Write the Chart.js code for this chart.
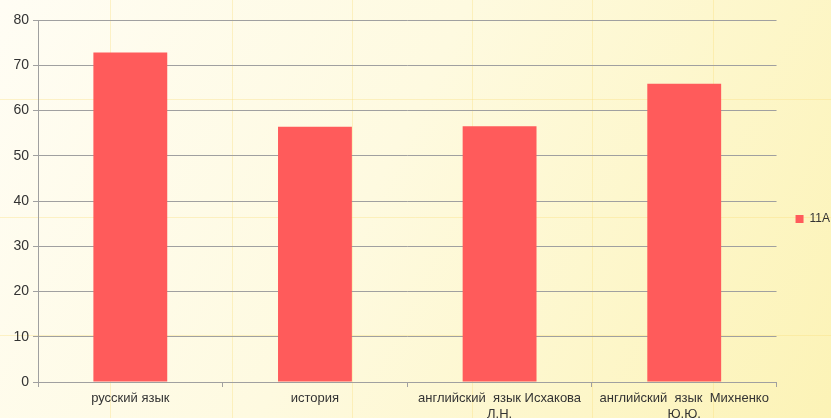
<!DOCTYPE html>
<html lang="ru">
<head>
    <meta charset="UTF-8">
    <title>11А</title>
    <script src="https://cdn.jsdelivr.net/npm/chart.js"></script>
    <style>
        html, body { margin: 0; padding: 0; background: #fefcf0; }
        #wrap { width: 831px; height: 418px; position: relative; }
    </style>
</head>
<body>
    <div id="wrap"><canvas id="chart"></canvas></div>

    <script>
        // данные
        const categories = [
            'русский язык',
            'история',
            ['английский  язык Исхакова', 'Л.Н.'],
            ['английский  язык  Михненко', 'Ю.Ю.']
        ];
        const seriesName = '11А';
        const values = [72.8, 56.4, 56.5, 65.9];
        const yTicks = [0, 10, 20, 30, 40, 50, 60, 70, 80];

        // фон: светлый градиент с бледной сеткой
        const backgroundPlugin = {
            id: 'bg',
            beforeDraw(chart) {
                const ctx = chart.ctx;
                const w = chart.width, h = chart.height;
                ctx.save();
                const g = ctx.createLinearGradient(0, 0, w, h);
                g.addColorStop(0, '#fffdf4');
                g.addColorStop(0.45, '#fefae0');
                g.addColorStop(1, '#fcf3b6');
                ctx.fillStyle = g;
                ctx.fillRect(0, 0, w, h);
                ctx.strokeStyle = 'rgba(248, 222, 120, 0.35)';
                ctx.lineWidth = 1;
                [110, 232, 352, 472, 592, 713].forEach(x => {
                    ctx.beginPath(); ctx.moveTo(x + 0.5, 0); ctx.lineTo(x + 0.5, h); ctx.stroke();
                });
                [99, 217, 335].forEach(y => {
                    ctx.beginPath(); ctx.moveTo(0, y + 0.5); ctx.lineTo(w, y + 0.5); ctx.stroke();
                });
                ctx.restore();
            }
        };

        // легенда чуть правее, как в оригинале
        const legendShift = {
            id: 'legendShift',
            afterLayout(chart) {
                const lg = chart.legend;
                if (lg) { lg.left += 9; lg.right += 9; }
            }
        };

        const ctx = document.getElementById('chart').getContext('2d');
        new Chart(ctx, {
            type: 'bar',
            data: {
                labels: categories,
                datasets: [{
                    label: seriesName,
                    data: values,
                    backgroundColor: '#ff5b5b',
                    borderWidth: 0,
                    barPercentage: 1,
                    categoryPercentage: 0.4
                }]
            },
            options: {
                responsive: true,
                maintainAspectRatio: false,
                animation: false,
                layout: { padding: { top: 20, left: 0, right: 0, bottom: 0 } },
                plugins: {
                    legend: {
                        position: 'right',
                        labels: {
                            boxWidth: 8,
                            boxHeight: 8,
                            padding: 10,
                            color: '#333',
                            font: { family: 'Liberation Sans', size: 12 }
                        }
                    },
                    tooltip: { enabled: false }
                },
                scales: {
                    x: {
                        offset: true,
                        grid: {
                            offset: true,
                            drawOnChartArea: false,
                            color: '#a0a0a0',
                            tickLength: 5
                        },
                        border: { color: '#a0a0a0' },
                        ticks: {
                            color: '#333',
                            maxRotation: 0,
                            autoSkip: false,
                            padding: 4,
                            font: { family: 'Liberation Sans', size: 13 }
                        },
                        afterFit(scale) { scale.height = 36; }
                    },
                    y: {
                        min: 0,
                        max: 80,
                        afterBuildTicks(scale) {
                            scale.ticks = yTicks.map(v => ({ value: v }));
                        },
                        grid: {
                            color: '#a0a0a0',
                            tickLength: 5
                        },
                        border: { color: '#a0a0a0' },
                        ticks: {
                            color: '#333',
                            padding: 4,
                            font: { family: 'Liberation Sans', size: 14 }
                        },
                        afterFit(scale) { scale.width = 38; }
                    }
                }
            },
            plugins: [backgroundPlugin, legendShift]
        });
    </script>
</body>
</html>
